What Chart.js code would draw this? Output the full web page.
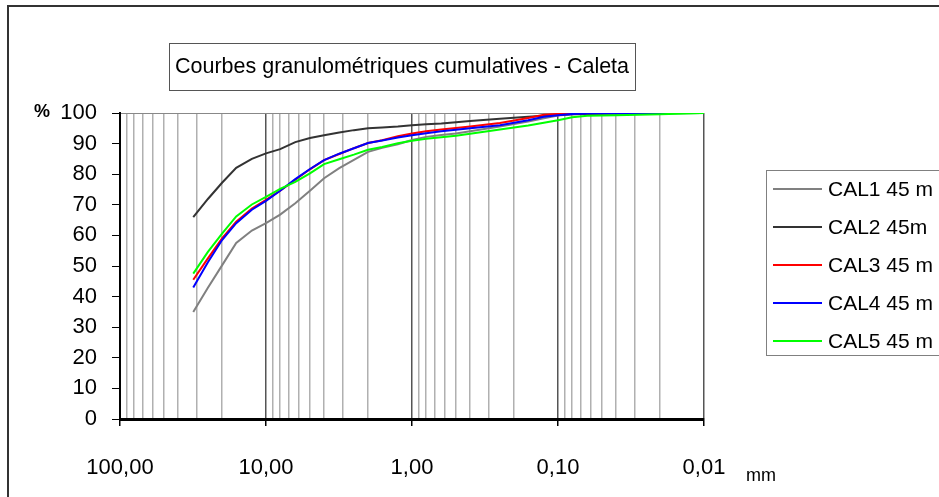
<!DOCTYPE html>
<html>
<head>
<meta charset="utf-8">
<script src="https://cdn.jsdelivr.net/npm/chart.js@4/dist/chart.umd.min.js"></script>
<style>
  html, body { margin: 0; padding: 0; background: #fff; }
  #wrap { width: 939px; height: 497px; position: relative; }
</style>
</head>
<body>
<div id="wrap"><canvas id="granChart" width="939" height="497"></canvas></div>
<script>
// sieve sizes (mm) and cumulative % passing
const sizesMm = [31.5, 25, 20, 16, 12.5, 10, 8, 6.3, 5, 4, 3.15, 2.5, 2, 1.6, 1.25, 1, 0.8, 0.63, 0.5, 0.4, 0.25, 0.16, 0.125, 0.1, 0.08, 0.063, 0.04, 0.02, 0.01];
const cal1 = [35, 42.9, 50.2, 57.5, 61.6, 64, 66.8, 70.5, 74.6, 78.7, 82, 84.7, 87.3, 88.6, 89.8, 91.2, 92.2, 92.8, 93.3, 94.0, 95.6, 97.2, 98.3, 99.2, 99.6, 99.8, 99.9, 100, 100];
const cal2 = [66, 71.9, 77.2, 82.1, 85.0, 86.8, 88.2, 90.5, 91.8, 92.7, 93.6, 94.4, 95.0, 95.3, 95.6, 96.0, 96.3, 96.6, 97.0, 97.4, 98.1, 98.8, 99.1, 99.4, 99.6, 99.7, 99.8, 99.9, 100];
const cal3 = [45.5, 52.5, 59, 64.5, 68.8, 71.6, 74.6, 78.2, 81.6, 84.6, 86.6, 88.5, 90.2, 91.1, 92.4, 93.3, 94.0, 94.6, 95.1, 95.6, 96.7, 98.4, 99.4, 99.7, 99.8, 99.9, 99.9, 100, 100];
const cal4 = [43, 51.2, 58.5, 64, 68.4, 71.3, 74.6, 78.4, 81.7, 84.6, 86.7, 88.5, 90.2, 91.0, 92.0, 92.7, 93.4, 94.0, 94.5, 95.0, 96.0, 97.6, 98.8, 99.3, 99.7, 99.8, 99.9, 100, 100];
const cal5 = [47.5, 54.6, 60.6, 66.2, 70.1, 72.6, 75.2, 77.5, 80.3, 83.3, 84.9, 86.4, 88.0, 88.9, 90.1, 90.9, 91.6, 92.1, 92.6, 93.2, 94.6, 95.9, 96.8, 97.6, 98.6, 99.1, 99.3, 99.6, 100];

const seriesNames = ['CAL1 45 m', 'CAL2 45m', 'CAL3 45 m', 'CAL4 45 m', 'CAL5 45 m'];
const seriesColors = ['#808080', '#333333', '#ff0000', '#0000ff', '#00ff00'];
const xTickValues = [100, 10, 1, 0.1, 0.01];
const xTickLabels = ['100,00', '10,00', '1,00', '0,10', '0,01'];
const yTicks = [0, 10, 20, 30, 40, 50, 60, 70, 80, 90, 100];

const chartTitle = 'Courbes granulométriques cumulatives - Caleta';
const FONT = '"Liberation Sans", Arial, sans-serif';

// every 1..9 step of each decade, for the log grid
const gridValues = [];
[0.01, 0.1, 1, 10].forEach(function (d) {
  for (let k = 1; k <= 9; k++) gridValues.push(+(d * k).toPrecision(3));
});
gridValues.push(100);

function isMajor(v) {
  const l = Math.log10(v);
  return Math.abs(l - Math.round(l)) < 1e-6;
}

const allSeries = [cal1, cal2, cal3, cal4, cal5];
const datasets = allSeries.map(function (vals, i) {
  return {
    label: seriesNames[i],
    data: sizesMm.map(function (s, j) { return { x: s, y: vals[j] }; }),
    borderColor: seriesColors[i],
    backgroundColor: seriesColors[i],
    borderWidth: 2,
    pointRadius: 0,
    tension: 0,
    fill: false,
    order: allSeries.length - i
  };
});

// frame, title box, legend, "%" and "mm"
const decorPlugin = {
  id: 'decor',
  beforeDraw: function (chart) {
    const c = chart.ctx;
    c.save();
    c.fillStyle = '#fff';
    c.fillRect(0, 0, chart.width, chart.height);
    c.restore();
  },
  afterDraw: function (chart) {
    const c = chart.ctx;
    c.save();
    // outer frame (runs off the right and bottom)
    c.strokeStyle = '#333';
    c.lineWidth = 2;
    c.beginPath();
    c.moveTo(8, 1000);
    c.lineTo(8, 6);
    c.lineTo(1000, 6);
    c.stroke();

    // title box
    c.strokeStyle = '#555';
    c.lineWidth = 1;
    c.strokeRect(169.5, 43.5, 466, 47);
    c.fillStyle = '#000';
    c.font = '21.5px ' + FONT;
    c.textAlign = 'center';
    c.textBaseline = 'middle';
    c.fillText(chartTitle, 402, 67);

    // legend box
    c.strokeStyle = '#808080';
    c.strokeRect(766.5, 170.5, 300, 185);
    c.textAlign = 'left';
    c.font = '21px ' + FONT;
    chart.data.datasets.forEach(function (ds, i) {
      const y = 189 + i * 38;
      c.strokeStyle = ds.borderColor;
      c.lineWidth = 2;
      c.beginPath();
      c.moveTo(773, y);
      c.lineTo(822, y);
      c.stroke();
      c.fillStyle = '#000';
      c.fillText(ds.label, 828, y + 1);
    });

    // axis unit labels
    c.font = 'bold 18px ' + FONT;
    c.textAlign = 'left';
    c.fillText('%', 34, 112);
    c.font = '18px ' + FONT;
    c.fillText('mm', 746, 476);
    c.restore();
  }
};

new Chart(document.getElementById('granChart').getContext('2d'), {
  type: 'line',
  data: { datasets: datasets },
  options: {
    responsive: false,
    animation: false,
    devicePixelRatio: 1,
    layout: { padding: { top: 113, right: 235, bottom: 0, left: 0 } },
    plugins: {
      legend: { display: false },
      tooltip: { enabled: false }
    },
    scales: {
      x: {
        type: 'logarithmic',
        reverse: true,
        min: 0.01,
        max: 100,
        afterBuildTicks: function (scale) {
          scale.ticks = gridValues.map(function (v) { return { value: v }; });
        },
        afterFit: function (scale) { scale.height = 78; },
        border: { color: '#000', width: 3 },
        grid: {
          color: function (ctx) {
            return ctx.tick && isMajor(ctx.tick.value) ? '#555' : '#b0b0b0';
          },
          lineWidth: 1.5,
          tickColor: function (ctx) {
            return ctx.tick && isMajor(ctx.tick.value) ? '#000' : 'rgba(0,0,0,0)';
          },
          tickLength: 7
        },
        ticks: {
          autoSkip: false,
          maxRotation: 0,
          padding: 29,
          color: '#000',
          font: { family: FONT, size: 22 },
          callback: function (value) {
            const idx = xTickValues.findIndex(function (t) { return Math.abs(t - value) < 1e-9; });
            return idx >= 0 ? xTickLabels[idx] : '';
          }
        }
      },
      y: {
        min: 0,
        max: 100,
        afterBuildTicks: function (scale) {
          scale.ticks = yTicks.map(function (v) { return { value: v }; });
        },
        afterFit: function (scale) { scale.width = 120; },
        border: { color: '#000', width: 2 },
        grid: {
          drawOnChartArea: true,
          color: function (ctx) {
            return ctx.tick && ctx.tick.value === 100 ? '#888' : 'rgba(0,0,0,0)';
          },
          tickColor: '#000',
          tickLength: 8
        },
        ticks: {
          padding: 15,
          color: '#000',
          font: { family: FONT, size: 22 }
        }
      }
    }
  },
  plugins: [decorPlugin]
});
</script>
</body>
</html>
